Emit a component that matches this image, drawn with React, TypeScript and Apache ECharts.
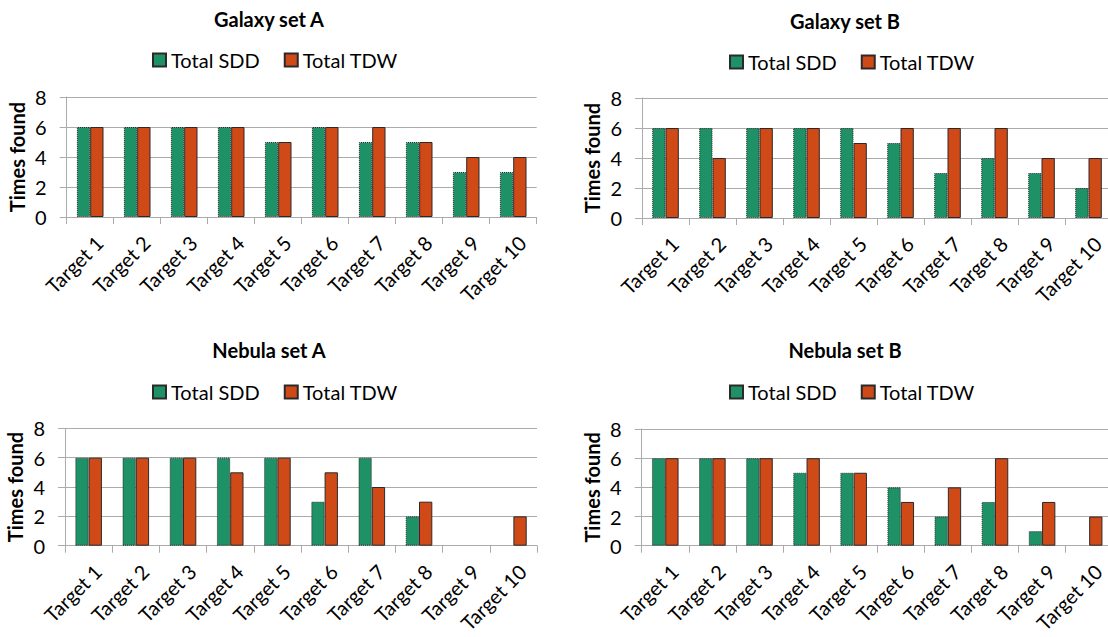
import React, { useEffect, useRef } from 'react';
import * as echarts from 'echarts';

const categories = ['Target 1', 'Target 2', 'Target 3', 'Target 4', 'Target 5', 'Target 6', 'Target 7', 'Target 8', 'Target 9', 'Target 10'];
const seriesNames = ['Total SDD', 'Total TDW'];
const yTicks = [0, 2, 4, 6, 8];

const galaxyA_SDD = [6, 6, 6, 6, 5, 6, 5, 5, 3, 3];
const galaxyA_TDW = [6, 6, 6, 6, 5, 6, 6, 5, 4, 4];
const galaxyB_SDD = [6, 6, 6, 6, 6, 5, 3, 4, 3, 2];
const galaxyB_TDW = [6, 4, 6, 6, 5, 6, 6, 6, 4, 4];
const nebulaA_SDD = [6, 6, 6, 6, 6, 3, 6, 2, 0, 0];
const nebulaA_TDW = [6, 6, 6, 5, 6, 5, 4, 3, 0, 2];
const nebulaB_SDD = [6, 6, 6, 5, 5, 4, 2, 3, 1, 0];
const nebulaB_TDW = [6, 6, 6, 6, 5, 3, 4, 6, 3, 2];

const titles = ['Galaxy set A', 'Galaxy set B', 'Nebula set A', 'Nebula set B'];
const sddData = [galaxyA_SDD, galaxyB_SDD, nebulaA_SDD, nebulaB_SDD];
const tdwData = [galaxyA_TDW, galaxyB_TDW, nebulaA_TDW, nebulaB_TDW];

const FONT = 'Lato, "Open Sans", sans-serif';
const GREEN = '#1f9166';
const ORANGE = '#d04a17';
const GRID_GREY = '#ababab';

const layouts = [
  { grid: { left: 66.7, top: 97, width: 470, height: 120 }, titleX: 269, titleY: 19, legendLeft: 152, legendTop: 50 },
  { grid: { left: 642, top: 98, width: 470, height: 120 }, titleX: 845, titleY: 21, legendLeft: 729, legendTop: 52 },
  { grid: { left: 65, top: 428.3, width: 472, height: 117.4 }, titleX: 269, titleY: 350, legendLeft: 152, legendTop: 382 },
  { grid: { left: 641.7, top: 429, width: 471, height: 116.7 }, titleX: 845, titleY: 350, legendLeft: 729, legendTop: 382 },
];

// a count of zero draws no bar
const toBars = (values: number[]) => values.map((v) => (v === 0 ? '-' : v));

function buildOption() {
  const grid: any[] = [];
  const xAxis: any[] = [];
  const yAxis: any[] = [];
  const series: any[] = [];
  const legend: any[] = [];
  const graphic: any[] = [];

  layouts.forEach((lay, i) => {
    grid.push({ ...lay.grid, containLabel: false, outerBoundsMode: 'none' });
    xAxis.push({
      type: 'category',
      gridIndex: i,
      data: categories,
      boundaryGap: true,
      axisLine: { show: true, lineStyle: { color: GRID_GREY, width: 1 } },
      axisTick: { show: true, length: 7, lineStyle: { color: GRID_GREY } },
      axisLabel: {
        interval: 0,
        rotate: 45,
        align: 'right',
        verticalAlign: 'top',
        margin: 13,
        fontSize: 20,
        lineHeight: 26,
        fontFamily: FONT,
        color: '#000',
      },
      splitLine: { show: false },
    });
    yAxis.push({
      type: 'value',
      gridIndex: i,
      min: yTicks[0],
      max: yTicks[yTicks.length - 1],
      interval: yTicks[1] - yTicks[0],
      name: 'Times found',
      nameLocation: 'middle',
      nameRotate: 90,
      nameGap: 40,
      nameTextStyle: { fontSize: 20, fontWeight: 'bold', fontFamily: FONT, color: '#000' },
      axisLine: { show: true, lineStyle: { color: GRID_GREY, width: 1 } },
      axisTick: { show: true, length: 7, lineStyle: { color: GRID_GREY } },
      axisLabel: { fontSize: 20, fontFamily: FONT, color: '#000', margin: 20 },
      splitLine: { show: true, lineStyle: { color: GRID_GREY, width: 1 } },
    });
    series.push({
      type: 'bar',
      name: seriesNames[0],
      xAxisIndex: i,
      yAxisIndex: i,
      data: toBars(sddData[i]),
      barWidth: 13.3,
      barGap: '0%',
      itemStyle: { color: GREEN, borderColor: '#2a2a2a', borderWidth: 1, borderType: 'dotted' },
    });
    series.push({
      type: 'bar',
      name: seriesNames[1],
      xAxisIndex: i,
      yAxisIndex: i,
      data: toBars(tdwData[i]),
      barWidth: 13.3,
      barGap: '0%',
      itemStyle: { color: ORANGE, borderColor: '#2a2a2a', borderWidth: 1, borderType: 'solid' },
    });
    legend.push({
      data: seriesNames,
      left: lay.legendLeft,
      top: lay.legendTop,
      padding: 0,
      icon: 'rect',
      itemWidth: 13,
      itemHeight: 13,
      itemGap: 24,
      selectedMode: false,
      textStyle: { fontSize: 20, fontFamily: FONT, color: '#000' },
    });
    graphic.push({
      type: 'text',
      x: lay.titleX,
      y: lay.titleY,
      style: {
        text: titles[i],
        align: 'center',
        verticalAlign: 'middle',
        fontSize: 20,
        fontWeight: 'bold',
        fontFamily: FONT,
        fill: '#000',
      },
    });
  });

  return {
    animation: false,
    backgroundColor: '#ffffff',
    grid,
    xAxis,
    yAxis,
    series,
    legend,
    graphic,
  };
}

export default function App() {
  const ref = useRef<HTMLDivElement>(null);
  useEffect(() => {
    if (!ref.current) return;
    const chart = echarts.init(ref.current, null, { renderer: 'svg' });
    chart.setOption(buildOption());
    return () => chart.dispose();
  }, []);
  return (
    <div
      ref={ref}
      style={{ position: 'fixed', left: 0, top: 0, width: 1108, height: 637, background: '#fff' }}
    />
  );
}
